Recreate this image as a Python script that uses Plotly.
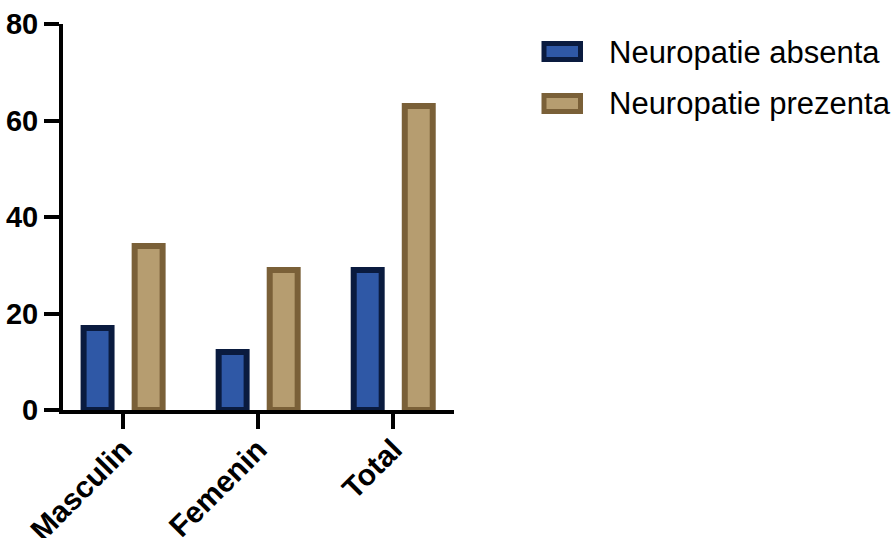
import plotly.graph_objects as go

# Patient counts by sex, split by neuropathy status
categories = ["Masculin", "Femenin", "Total"]
absenta = [17, 12, 29]
prezenta = [34, 29, 63]
series_names = ["Neuropatie absenta", "Neuropatie prezenta"]
y_ticks = [0, 20, 40, 60, 80]

FILL = ["#2F58A6", "#B69D70"]
EDGE = ["#0A1B3F", "#7A6038"]
FONT = "Liberation Sans, Arial, sans-serif"

W, H = 896, 538
ML, MR, MT, MB = 63, 442, 24, 128
PW, PH = W - ML - MR, H - MT - MB


def px_x(px):
    return (px - ML) / PW


def px_y(py):
    return (H - MB - py) / PH


bar_w = 0.207
centre = 0.189

fig = go.Figure()
for vals, name, fill, edge, sign in zip(
    [absenta, prezenta], series_names, FILL, EDGE, [-1, 1]
):
    fig.add_bar(
        x=categories,
        y=vals,
        name=name,
        width=bar_w,
        offset=sign * centre - bar_w / 2,
        marker=dict(color=fill, line=dict(color=edge, width=6)),
        showlegend=False,
    )

# Legend drawn as outlined swatches with labels to the right
for i, (name, fill, edge) in enumerate(zip(series_names, FILL, EDGE)):
    top = 41 + i * 52
    fig.add_shape(
        type="rect", xref="paper", yref="paper",
        x0=px_x(544), x1=px_x(580.5), y0=px_y(top + 2.5), y1=px_y(top + 18.5),
        fillcolor=fill, line=dict(color=edge, width=5),
    )
    fig.add_annotation(
        xref="paper", yref="paper", x=px_x(607), y=px_y(top + 11),
        xanchor="left", yanchor="middle", text=name, showarrow=False,
        font=dict(family=FONT, size=31, color="black"),
    )

fig.update_layout(
    width=W, height=H,
    margin=dict(l=ML, r=MR, t=MT, b=MB, pad=0),
    paper_bgcolor="white", plot_bgcolor="white",
    barmode="overlay",
    showlegend=False,
    font=dict(family=FONT, color="black"),
)
fig.update_xaxes(
    range=[-0.445, 2.45], automargin=False,
    showline=True, linewidth=4, linecolor="black",
    ticks="outside", ticklen=15, tickwidth=3.5, tickcolor="black",
    tickangle=-45, ticklabelstandoff=-9,
    tickfont=dict(family=FONT, size=30, color="black", weight="bold"),
    showgrid=False, zeroline=False,
)
fig.update_yaxes(
    range=[0, 80], tickvals=y_ticks, automargin=False,
    showline=True, linewidth=4, linecolor="black",
    ticks="outside", ticklen=15, tickwidth=3.5, tickcolor="black",
    tickfont=dict(family=FONT, size=29, color="black", weight="bold"),
    showgrid=False, zeroline=False,
)

fig.write_html("out.html")
